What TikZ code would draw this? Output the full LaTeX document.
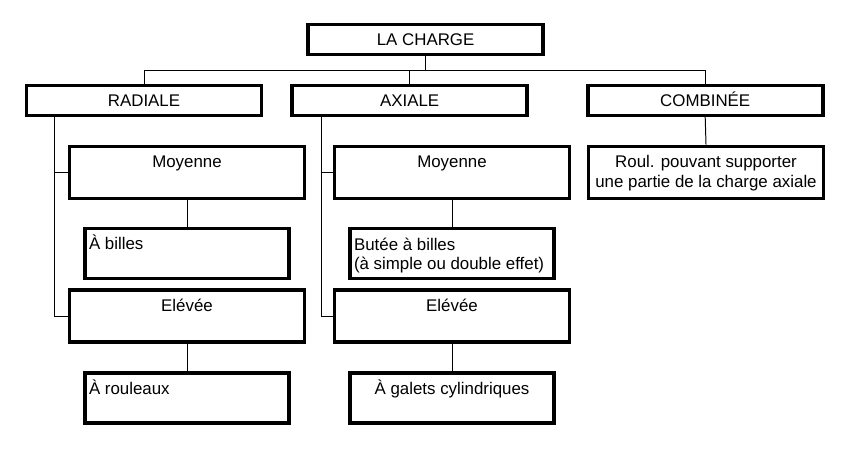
\documentclass[tikz,border=0pt]{standalone}
\usepackage{fontspec}
\setmainfont{Liberation Sans}
\begin{document}
\begin{tikzpicture}[
    box/.style={draw,line width=2.6pt,minimum width=5.875cm,minimum height=1.3cm,inner sep=0pt},
    hbox/.style={box,minimum height=0.75cm},
    sbox/.style={box,minimum width=5.1cm,minimum height=1.25cm},
    txt/.style={inner sep=0pt,font=\fontsize{12}{14.2}\selectfont,anchor=base,yshift=-0.58cm},
    ltxt/.style={txt,anchor=base west,xshift=0.14cm,align=left},
    twoline/.style={yshift=-0.5cm},
    link/.style={line width=0.7pt}
]
\useasboundingbox (0,0) rectangle (21.075,-11.325);
% boxes
\node[hbox] (charge) at (10.64,-0.99) {};
\node[hbox] (radiale) at (3.6,-2.51) {};
\node[hbox] (axiale) at (10.24,-2.51) {};
\node[hbox] (combinee) at (17.63,-2.51) {};
\node[box] (moyR) at (4.675,-4.31) {};
\node[box] (moyA) at (11.3,-4.31) {};
\node[box] (roul) at (17.65,-4.31) {};
\node[sbox] (billes) at (4.675,-6.34) {};
\node[sbox] (butee) at (11.3,-6.34) {};
\node[box] (elevR) at (4.675,-7.9) {};
\node[box] (elevA) at (11.3,-7.9) {};
\node[sbox] (rouleaux) at (4.675,-9.95) {};
\node[sbox] (galets) at (11.3,-9.95) {};
% texts
\node[txt] (tcharge) at (charge.north) {LA CHARGE};
\node[txt] (tradiale) at (radiale.north) {RADIALE};
\node[txt] (taxiale) at (axiale.north) {AXIALE};
\node[txt] (tcombinee) at (combinee.north) {COMBINÉE};
\node[txt] (tmoyR) at (moyR.north) {Moyenne};
\node[txt] (tmoyA) at (moyA.north) {Moyenne};
\node[txt,twoline,align=center] (troul) at (roul.north) {Roul. pouvant supporter\\une partie de la charge axiale};
\node[ltxt] (tbilles) at (billes.north west) {À billes};
\node[ltxt,twoline] (tbutee) at (butee.north west) {Butée à billes\\(à simple ou double effet)};
\node[txt] (televR) at (elevR.north) {Elévée};
\node[txt] (televA) at (elevA.north) {Elévée};
\node[ltxt] (trouleaux) at (rouleaux.north west) {À rouleaux};
\node[txt] (tgalets) at (galets.north) {À galets cylindriques};
% connectors
\coordinate (bus) at (10.64,-1.75);
\coordinate (trR) at (1.35,0);
\coordinate (trA) at (8.03,0);
\draw[link] (charge.south) -- (bus);
\draw[link] (radiale.north) |- (bus);
\draw[link] (combinee.north) |- (bus);
\draw[link] (axiale.north) -- (axiale.north |- bus);
\draw[link] (radiale.south -| trR) |- (moyR.west);
\draw[link] (radiale.south -| trR) |- (elevR.west);
\draw[link] (axiale.south -| trA) |- (moyA.west);
\draw[link] (axiale.south -| trA) |- (elevA.west);
\draw[link] (combinee.south) -- (roul.north);
\draw[link] (moyR.south) -- (billes.north);
\draw[link] (moyA.south) -- (butee.north);
\draw[link] (elevR.south) -- (rouleaux.north);
\draw[link] (elevA.south) -- (galets.north);
\end{tikzpicture}
\end{document}
